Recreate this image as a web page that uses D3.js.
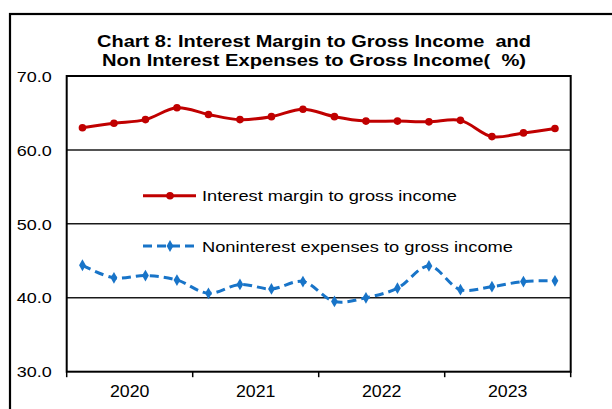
<!DOCTYPE html>
<html><head><meta charset="utf-8">
<script src="https://cdn.jsdelivr.net/npm/d3@7"></script>
<style>html,body{margin:0;padding:0;background:#fff;} svg{display:block;}</style>
</head><body>
<script>
const quarters = ["2020Q1","2020Q2","2020Q3","2020Q4","2021Q1","2021Q2","2021Q3","2021Q4",
  "2022Q1","2022Q2","2022Q3","2022Q4","2023Q1","2023Q2","2023Q3","2023Q4"];
const years = ["2020","2021","2022","2023"];
const interestMargin = [63.0,63.6,64.1,65.7,64.8,64.1,64.5,65.5,64.5,63.9,63.9,63.8,64.0,61.8,62.3,62.9];
const nonInterestExp = [44.4,42.7,43.0,42.4,40.6,41.8,41.2,42.2,39.5,40.0,41.3,44.3,41.1,41.5,42.2,42.3];
const yTicks = [30,40,50,60,70];
const gridTicks = [40,50,60];
const titleLines = ["Chart 8: Interest Margin to Gross Income  and", "Non Interest Expenses to Gross Income(  %)"];
const legendLabels = ["Interest margin to gross income", "Noninterest expenses to gross income"];

const W = 612, H = 409;
const m = {left: 66.7, right: 570.7, top: 76, bottom: 371.7};
const svg = d3.select("body").append("svg").attr("width", W).attr("height", H);
const font = "'Liberation Sans', Arial, sans-serif";

// outer frame (partially clipped)
svg.append("rect").attr("x", 10).attr("y", 14).attr("width", 700).attr("height", 500)
  .attr("fill", "none").attr("stroke", "#000").attr("stroke-width", 2.2);

const x = d3.scaleBand().domain(quarters).range([m.left, m.right]);
const xYear = d3.scaleBand().domain(years).range([m.left, m.right]);
const y = d3.scaleLinear().domain([30, 70]).range([m.bottom, m.top]);

// title
const titleW = [434, 424];
titleLines.forEach((t, i) => {
  svg.append("text").attr("x", 314).attr("y", [46.5, 65.5][i])
    .attr("text-anchor", "middle").attr("font-family", font).attr("font-weight", "bold")
    .attr("font-size", 16.3).attr("xml:space", "preserve").style("white-space", "pre")
    .attr("textLength", titleW[i]).attr("lengthAdjust", "spacingAndGlyphs").text(t);
});

// gridlines
svg.append("g").selectAll("line").data(gridTicks).join("line")
  .attr("x1", m.left).attr("x2", m.right).attr("y1", d => y(d)).attr("y2", d => y(d))
  .attr("stroke", "#1a1a1a").attr("stroke-width", 1.5);

// plot border
svg.append("rect").attr("x", m.left).attr("y", m.top)
  .attr("width", m.right - m.left).attr("height", m.bottom - m.top)
  .attr("fill", "none").attr("stroke", "#000").attr("stroke-width", 2);

// y labels
svg.append("g").selectAll("text").data(yTicks).join("text")
  .attr("x", 51.7).attr("y", d => y(d) + 5.7).attr("text-anchor", "end")
  .attr("font-family", font).attr("font-size", 15).attr("fill", "#000")
  .attr("textLength", 35).attr("lengthAdjust", "spacingAndGlyphs")
  .text(d => d3.format(".1f")(d));

// x axis year ticks
const xAxis = d3.axisBottom(xYear).tickSize(0).tickFormat("");
const boundaries = years.map(yr => xYear(yr)).concat([m.right]);
svg.append("g").selectAll("line").data(boundaries).join("line")
  .attr("x1", d => d).attr("x2", d => d).attr("y1", m.bottom).attr("y2", m.bottom + 5.5)
  .attr("stroke", "#000").attr("stroke-width", 1.5);
svg.append("g").selectAll("text").data(years).join("text")
  .attr("x", d => xYear(d) + xYear.bandwidth() / 2).attr("y", 396.7)
  .attr("text-anchor", "middle").attr("font-family", font).attr("font-size", 16)
  .attr("textLength", 39.5).attr("lengthAdjust", "spacingAndGlyphs").text(d => d);

const cx = q => x(q) + x.bandwidth() / 2;
const line = d3.line().x((d, i) => cx(quarters[i])).y(d => y(d)).curve(d3.curveCatmullRom.alpha(0.5));

const red = "#c00000", blue = "#1874c8";

// red series
svg.append("path").datum(interestMargin).attr("d", line).attr("fill", "none")
  .attr("stroke", red).attr("stroke-width", 3);
svg.append("g").selectAll("circle").data(interestMargin).join("circle")
  .attr("cx", (d, i) => cx(quarters[i])).attr("cy", d => y(d)).attr("r", 3.8).attr("fill", red);

// blue series
svg.append("path").datum(nonInterestExp).attr("d", line).attr("fill", "none")
  .attr("stroke", blue).attr("stroke-width", 3).attr("stroke-dasharray", "9,5");
const diamond = d3.symbol().type(d3.symbolDiamond).size(40);
svg.append("g").selectAll("path").data(nonInterestExp).join("path")
  .attr("d", diamond).attr("transform", (d, i) => `translate(${cx(quarters[i])},${y(d)})`)
  .attr("fill", blue);

// legend
const legY = [195.7, 246];
const legW = [255, 311];
// red legend
svg.append("line").attr("x1", 143).attr("x2", 196).attr("y1", legY[0]).attr("y2", legY[0])
  .attr("stroke", red).attr("stroke-width", 3);
svg.append("circle").attr("cx", 170).attr("cy", legY[0]).attr("r", 3.8).attr("fill", red);
// blue legend
svg.append("line").attr("x1", 143).attr("x2", 196).attr("y1", legY[1]).attr("y2", legY[1])
  .attr("stroke", blue).attr("stroke-width", 3).attr("stroke-dasharray", "9,5");
svg.append("path").attr("d", diamond).attr("transform", `translate(170,${legY[1]})`).attr("fill", blue);
legendLabels.forEach((t, i) => {
  svg.append("text").attr("x", 202).attr("y", legY[i] + 5.5)
    .attr("font-family", font).attr("font-size", 15.3).attr("fill", "#000")
    .attr("textLength", legW[i]).attr("lengthAdjust", "spacingAndGlyphs").text(t);
});
</script>
</body></html>
